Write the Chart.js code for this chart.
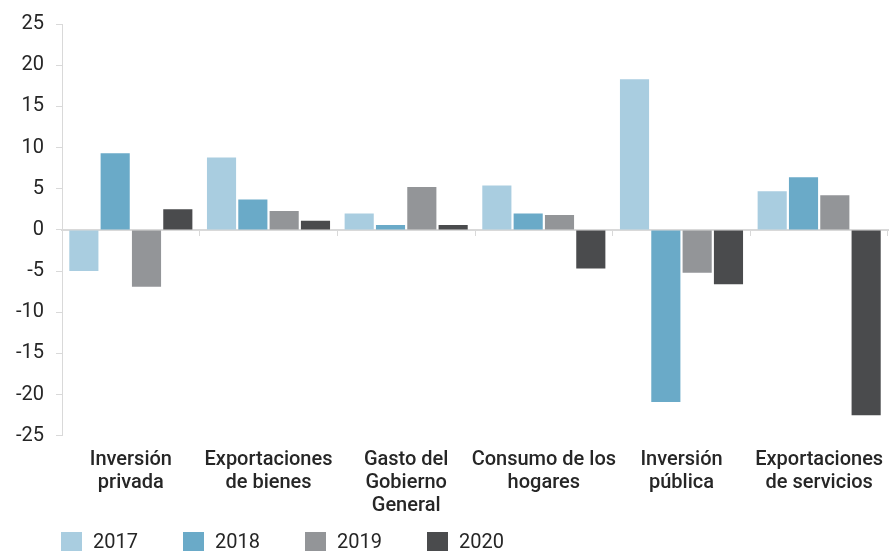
<!DOCTYPE html>
<html>
<head>
<meta charset="utf-8">
<script src="https://cdn.jsdelivr.net/npm/chart.js@4.4.1/dist/chart.umd.min.js"></script>
<style>
  body { margin: 0; background: #fff; }
  #wrap { position: relative; width: 890px; height: 559px; }
  #legend { position: absolute; left: 61px; top: 529px; display: flex; font-family: Roboto, sans-serif; font-size: 20px; color: #262626; }
  #legend .item { display: flex; align-items: center; width: 122px; }
  #legend .box { width: 21px; height: 19px; margin-right: 11px; }
</style>
</head>
<body>
<div id="wrap">
  <canvas id="chart" width="890" height="559"></canvas>
  <div id="legend"></div>
</div>
<script>
const categories = [
    ['Inversión', 'privada'],
    ['Exportaciones', 'de bienes'],
    ['Gasto del', 'Gobierno', 'General'],
    ['Consumo de los', 'hogares'],
    ['Inversión', 'pública'],
    ['Exportaciones', 'de servicios']
];
const years = ['2017', '2018', '2019', '2020'];
const values2017 = [-5.0, 8.8, 2.0, 5.4, 18.3, 4.7];
const values2018 = [9.3, 3.7, 0.6, 2.0, -20.9, 6.4];
const values2019 = [-6.9, 2.3, 5.2, 1.8, -5.2, 4.2];
const values2020 = [2.5, 1.1, 0.6, -4.7, -6.6, -22.5];
const yTicks = [-25, -20, -15, -10, -5, 0, 5, 10, 15, 20, 25];
const colors = ['#a9cde0', '#6aaac8', '#939598', '#4a4b4d'];

const seriesValues = [values2017, values2018, values2019, values2020];
const axisGray = '#d9d9d9';

const ctx = document.querySelector('#chart').getContext('2d');

new Chart(ctx, {
    type: 'bar',
    data: {
        labels: categories,
        datasets: years.map((y, i) => ({
            label: y,
            data: seriesValues[i],
            backgroundColor: colors[i],
            borderWidth: 0,
            barPercentage: 0.93,
            categoryPercentage: 0.91,
            xAxisID: 'x'
        }))
    },
    options: {
        responsive: false,
        animation: false,
        layout: { padding: { left: 4, right: 2, top: 4, bottom: 38 } },
        plugins: {
            legend: { display: false },
            tooltip: { enabled: false }
        },
        scales: {
            x: {
                position: 'bottom',
                border: { display: false },
                // invisible tick marks just make the gap above the labels
                grid: { drawOnChartArea: false, drawTicks: true, tickLength: 9, color: 'rgba(0,0,0,0)' },
                ticks: {
                    padding: 3,
                    color: '#262626',
                    font: { family: 'Roboto', size: 20, weight: 500, lineHeight: 1.17 },
                    maxRotation: 0,
                    autoSkip: false
                }
            },
            x0: {
                type: 'category',
                labels: categories,
                position: { y: 0 },
                offset: true,
                border: { display: true, color: axisGray, width: 2 },
                grid: { offset: true, drawOnChartArea: false, drawTicks: true, tickLength: 5, color: axisGray, lineWidth: 1 },
                ticks: { display: false }
            },
            y: {
                min: -25,
                max: 25,
                afterBuildTicks: (axis) => { axis.ticks = yTicks.map(v => ({ value: v })); },
                border: { display: true, color: axisGray, width: 1 },
                grid: { drawOnChartArea: false, drawTicks: true, tickLength: 6, color: axisGray },
                ticks: {
                    padding: 12,
                    color: '#262626',
                    font: { family: 'Roboto', size: 20 }
                }
            }
        }
    }
});

// html legend built from the series
const legend = document.querySelector('#legend');
years.forEach((y, i) => {
    const item = document.createElement('div');
    item.className = 'item';
    item.innerHTML = '<span class="box" style="background:' + colors[i] + '"></span>' + y;
    legend.appendChild(item);
});
</script>
</body>
</html>
